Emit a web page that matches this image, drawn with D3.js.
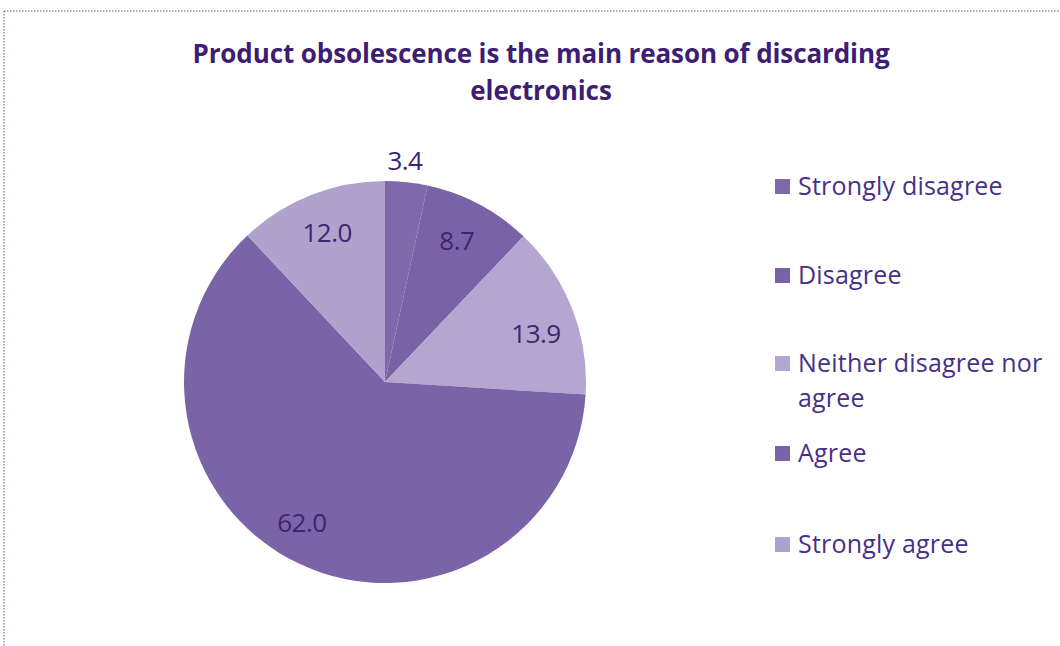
<!DOCTYPE html>
<html>
<head>
<meta charset="utf-8">
<script src="https://cdn.jsdelivr.net/npm/d3@7"></script>
<style>
  html, body { margin: 0; padding: 0; background: #fff; }
  svg { display: block; }
  text { font-family: "Open Sans", "Noto Sans", sans-serif; }
</style>
</head>
<body>
<svg id="chart" width="1060" height="646"></svg>
<script>
// Survey answers (percent of respondents)
const categories = ["Strongly disagree", "Disagree", "Neither disagree nor agree", "Agree", "Strongly agree"];
const values = [3.4, 8.7, 13.9, 62.0, 12.0];
const legendLines = [["Strongly disagree"], ["Disagree"], ["Neither disagree nor", "agree"], ["Agree"], ["Strongly agree"]];
const titleLines = ["Product obsolescence is the main reason of discarding", "electronics"];

const colors = ["#7f69aa", "#7a62a6", "#b4a6d0", "#7b63a7", "#b0a2cc"];
// label placement: fraction of radius and angular nudge (degrees)
const labelRadius = [1.11, 0.79, 0.79, 0.81, 0.80];
const labelNudge = [-1, -1, 3.4, 5.5, 0.5];

const svg = d3.select("#chart");
const W = 1060, H = 646;

// dotted frame edges
svg.append("line").attr("x1", 4).attr("x2", W).attr("y1", 11).attr("y2", 11)
  .attr("stroke", "#9b86c2").attr("stroke-width", 1.5).attr("stroke-dasharray", "1.5,1.5");
svg.append("line").attr("x1", 4).attr("x2", 4).attr("y1", 11).attr("y2", H)
  .attr("stroke", "#9b86c2").attr("stroke-width", 1.5).attr("stroke-dasharray", "1.5,1.5");

// title
const title = svg.append("text")
  .attr("text-anchor", "middle")
  .attr("fill", "#3d1e74")
  .attr("font-weight", "bold")
  .attr("font-size", 26)
  .style("letter-spacing", "-0.1px");
titleLines.forEach((t, i) => {
  title.append("tspan").attr("x", 541).attr("y", 63 + i * 37).text(t);
});

// pie
const cx = 385, cy = 382, r = 201;
const pie = d3.pie().sort(null).value(d => d)(values);
const arc = d3.arc().innerRadius(0).outerRadius(r);
const g = svg.append("g").attr("transform", `translate(${cx},${cy})`);

g.selectAll("path.slice").data(pie).join("path")
  .attr("class", "slice")
  .attr("d", arc)
  .attr("fill", (d, i) => colors[i]);

g.selectAll("text.val").data(pie).join("text")
  .attr("class", "val")
  .attr("text-anchor", "middle")
  .attr("dominant-baseline", "central")
  .attr("font-size", 26)
  .style("letter-spacing", "-0.5px")
  .attr("fill", "#3d2570")
  .attr("transform", (d, i) => {
    const a = (d.startAngle + d.endAngle) / 2 + labelNudge[i] * Math.PI / 180;
    const rr = r * labelRadius[i];
    return `translate(${Math.sin(a) * rr},${-Math.cos(a) * rr})`;
  })
  .text(d => d.data.toFixed(1));

// legend
const legendY = [186, 275, 363, 453, 544];
const lg = svg.append("g");
categories.forEach((c, i) => {
  const y = legendY[i];
  lg.append("rect").attr("x", 775).attr("y", y - 7).attr("width", 15).attr("height", 15)
    .attr("fill", colors[i]);
  const t = lg.append("text")
    .attr("font-size", 25)
    .attr("font-weight", 500)
    .attr("fill", "#46308a")
    .style("letter-spacing", "0.2px");
  legendLines[i].forEach((line, j) => {
    t.append("tspan").attr("x", 798).attr("y", y + 9 + j * 35).text(line);
  });
});
</script>
</body>
</html>
